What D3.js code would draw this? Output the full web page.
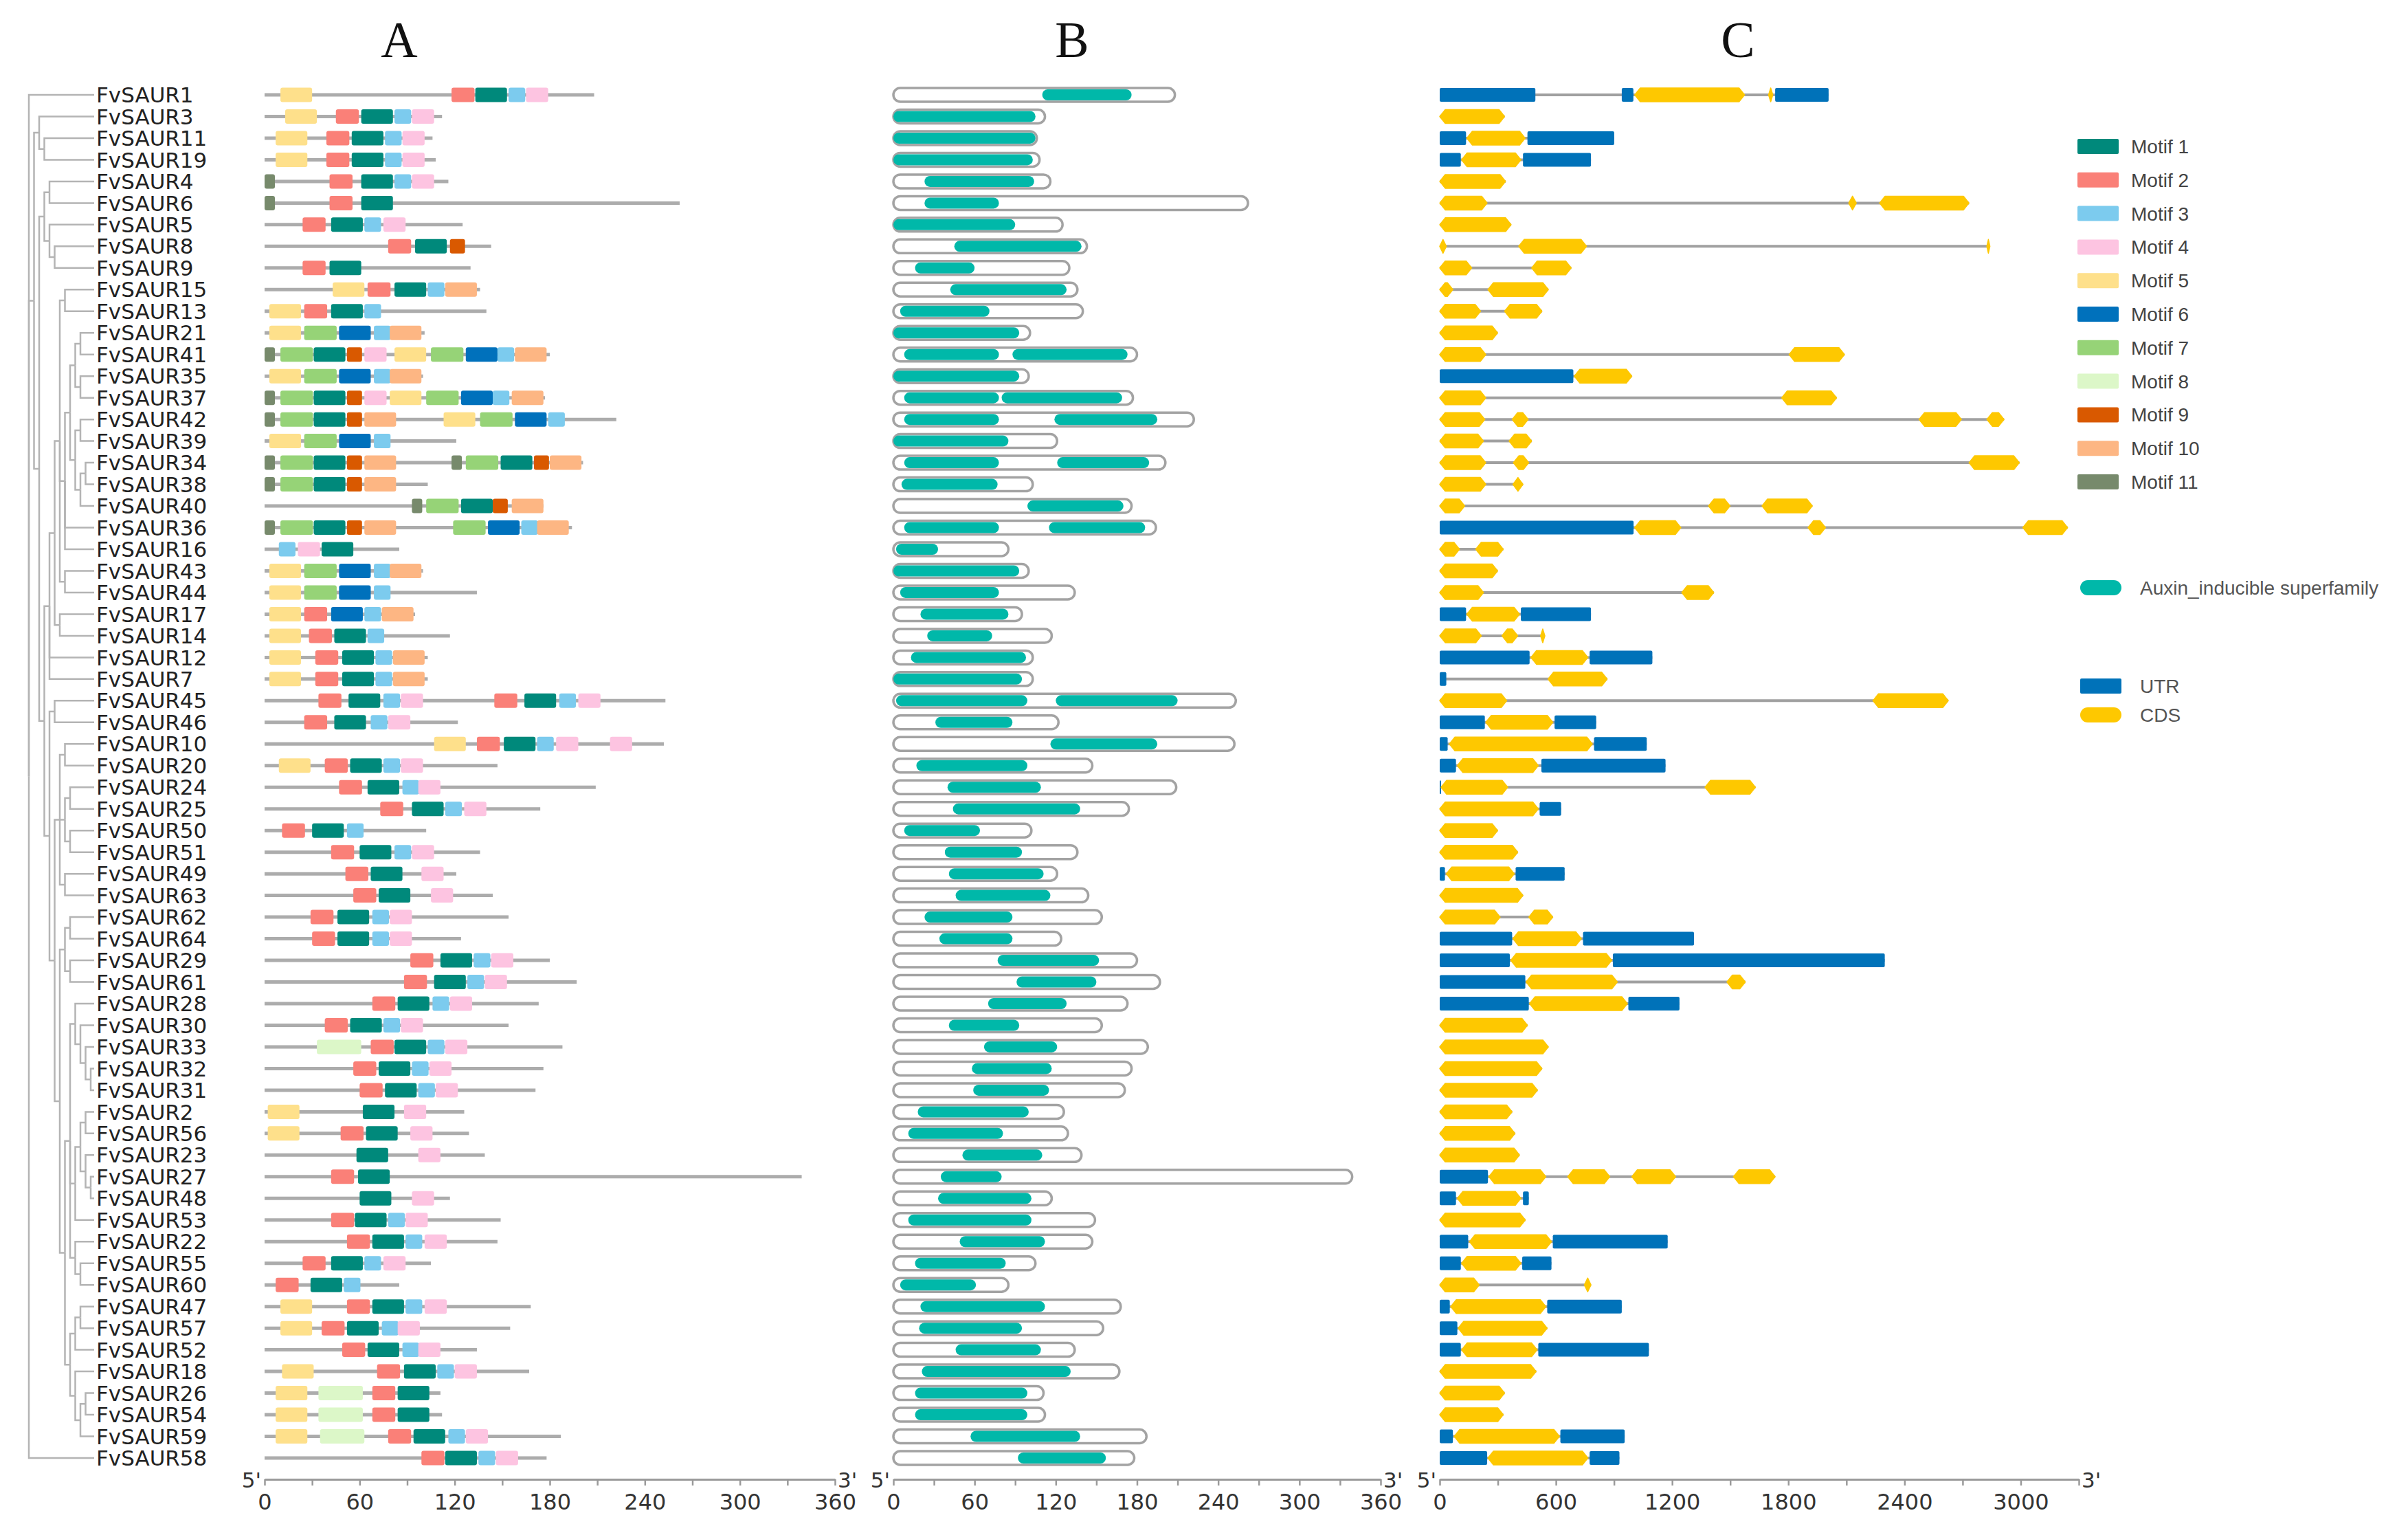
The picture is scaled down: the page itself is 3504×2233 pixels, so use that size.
<!DOCTYPE html>
<html>
<head>
<meta charset="utf-8">
<script src="https://cdn.jsdelivr.net/npm/d3@7"></script>
<style>
  html, body { margin: 0; padding: 0; background: #fff; }
  svg { display: block; }
</style>
</head>
<body>
<svg id="chart" width="3504" height="2233"></svg>
<script>
// ---- data ----
const genes = [
  "FvSAUR1", "FvSAUR3", "FvSAUR11", "FvSAUR19", "FvSAUR4", "FvSAUR6", "FvSAUR5", "FvSAUR8",
  "FvSAUR9", "FvSAUR15", "FvSAUR13", "FvSAUR21", "FvSAUR41", "FvSAUR35", "FvSAUR37", "FvSAUR42",
  "FvSAUR39", "FvSAUR34", "FvSAUR38", "FvSAUR40", "FvSAUR36", "FvSAUR16", "FvSAUR43", "FvSAUR44",
  "FvSAUR17", "FvSAUR14", "FvSAUR12", "FvSAUR7", "FvSAUR45", "FvSAUR46", "FvSAUR10", "FvSAUR20",
  "FvSAUR24", "FvSAUR25", "FvSAUR50", "FvSAUR51", "FvSAUR49", "FvSAUR63", "FvSAUR62", "FvSAUR64",
  "FvSAUR29", "FvSAUR61", "FvSAUR28", "FvSAUR30", "FvSAUR33", "FvSAUR32", "FvSAUR31", "FvSAUR2",
  "FvSAUR56", "FvSAUR23", "FvSAUR27", "FvSAUR48", "FvSAUR53", "FvSAUR22", "FvSAUR55", "FvSAUR60",
  "FvSAUR47", "FvSAUR57", "FvSAUR52", "FvSAUR18", "FvSAUR26", "FvSAUR54", "FvSAUR59", "FvSAUR58"
];

// protein length (aa), same order as genes
const proteinLength = [
  208, 112, 106, 108, 116, 262, 125, 143,
  130, 136, 140, 101, 180, 100, 177, 222,
  121, 201, 103, 176, 194, 85, 100, 134,
  95, 117, 103, 103, 253, 122, 252, 147,
  209, 174, 102, 136, 121, 144, 154, 124,
  180, 197, 173, 154, 188, 176, 171, 126,
  129, 139, 339, 117, 149, 147, 105, 85,
  168, 155, 134, 167, 111, 112, 187, 178
];

// motif widths (aa) and colours, motif 1..11
const motifWidth = [20, 14.5, 10.5, 14, 20, 20, 20.5, 28, 9.5, 20, 6.5];
const motifColors = ["#00897b", "#fa8078", "#7ccbee", "#fdc4e1", "#fee08b", "#0071bc",
                     "#96d377", "#dcf7c8", "#d95900", "#fdb683", "#778a6c"];

// [motif, start aa]
const motifSites = [
  [[5,10],[2,118],[1,133],[3,154],[4,165]],            // 1
  [[5,13],[2,45],[1,61],[3,82],[4,93]],                // 3
  [[5,7],[2,39],[1,55],[3,76],[4,87]],                 // 11
  [[5,7],[2,39],[1,55],[3,76],[4,87]],                 // 19
  [[11,0],[2,41],[1,61],[3,82],[4,93]],                // 4
  [[11,0],[2,41],[1,61]],                              // 6
  [[2,24],[1,42],[3,63],[4,75]],                       // 5
  [[2,78],[1,95],[9,117]],                             // 8
  [[2,24],[1,41]],                                     // 9
  [[5,43],[2,65],[1,82],[3,103],[10,114]],             // 15
  [[5,3],[2,25],[1,42],[3,63]],                        // 13
  [[5,3],[7,25],[6,47],[3,69],[10,79]],                // 21
  [[11,0],[7,10],[1,31],[9,52],[4,63],[5,82],[7,105],[6,127],[3,147],[10,158]], // 41
  [[5,3],[7,25],[6,47],[3,69],[10,79]],                // 35
  [[11,0],[7,10],[1,31],[9,52],[4,63],[5,79],[7,102],[6,124],[3,144],[10,156]], // 37
  [[11,0],[7,10],[1,31],[9,52],[10,63],[5,113],[7,136],[6,158],[3,179]],         // 42
  [[5,3],[7,25],[6,47],[3,69]],                        // 39
  [[11,0],[7,10],[1,31],[9,52],[10,63],[11,118],[7,127],[1,149],[9,170],[10,180]], // 34
  [[11,0],[7,10],[1,31],[9,52],[10,63]],               // 38
  [[11,93],[7,102],[1,124],[9,144],[10,156]],          // 40
  [[11,0],[7,10],[1,31],[9,52],[10,63],[7,119],[6,141],[3,162],[10,172]],        // 36
  [[3,9],[4,21],[1,36]],                               // 16
  [[5,3],[7,25],[6,47],[3,69],[10,79]],                // 43
  [[5,3],[7,25],[6,47],[3,69]],                        // 44
  [[5,3],[2,25],[6,42],[3,63],[10,74]],                // 17
  [[5,3],[2,28],[1,44],[3,65]],                        // 14
  [[5,3],[2,32],[1,49],[3,70],[10,81]],                // 12
  [[5,3],[2,32],[1,49],[3,70],[10,81]],                // 7
  [[2,34],[1,53],[3,75],[4,86],[2,145],[1,164],[3,186],[4,198]], // 45
  [[2,25],[1,44],[3,67],[4,78]],                       // 46
  [[5,107],[2,134],[1,151],[3,172],[4,184],[4,218]],   // 10
  [[5,9],[2,38],[1,54],[3,75],[4,86]],                 // 20
  [[2,47],[1,65],[3,87],[4,97]],                       // 24
  [[2,73],[1,93],[3,114],[4,126]],                     // 25
  [[2,11],[1,30],[3,52]],                              // 50
  [[2,42],[1,60],[3,82],[4,93]],                       // 51
  [[2,51],[1,67],[4,99]],                              // 49
  [[2,56],[1,72],[4,105]],                             // 63
  [[2,29],[1,46],[3,68],[4,79]],                       // 62
  [[2,30],[1,46],[3,68],[4,79]],                       // 64
  [[2,92],[1,111],[3,132],[4,143]],                    // 29
  [[2,88],[1,107],[3,128],[4,139]],                    // 61
  [[2,68],[1,84],[3,106],[4,117]],                     // 28
  [[2,38],[1,54],[3,75],[4,86]],                       // 30
  [[8,33],[2,67],[1,82],[3,103],[4,114]],              // 33
  [[2,56],[1,72],[3,93],[4,104]],                      // 32
  [[2,60],[1,76],[3,97],[4,108]],                      // 31
  [[5,2],[1,62],[4,88]],                               // 2
  [[5,2],[2,48],[1,64],[4,92]],                        // 56
  [[1,58],[4,97]],                                     // 23
  [[2,42],[1,59]],                                     // 27
  [[1,60],[4,93]],                                     // 48
  [[2,42],[1,57],[3,78],[4,89]],                       // 53
  [[2,52],[1,68],[3,89],[4,101]],                      // 22
  [[2,24],[1,42],[3,63],[4,75]],                       // 55
  [[2,7],[1,29],[3,50]],                               // 60
  [[5,10],[2,52],[1,68],[3,89],[4,101]],               // 47
  [[5,10],[2,36],[1,52],[3,74],[4,84]],                // 57
  [[2,49],[1,65],[3,87],[4,97]],                       // 52
  [[5,11],[2,71],[1,88],[3,109],[4,120]],              // 18
  [[5,7],[8,34],[2,68],[1,84]],                        // 26
  [[5,7],[8,34],[2,68],[1,84]],                        // 54
  [[5,7],[8,35],[2,78],[1,94],[3,116],[4,127]],        // 59
  [[2,99],[1,114],[3,135],[4,146]]                     // 58
];

// Auxin_inducible domain [start, end] aa
const domainSites = [
  [[110,176]], [[0,105]], [[0,105]], [[0,103]], [[23,104]], [[23,78]], [[0,90]], [[45,139]],
  [[16,60]], [[42,128]], [[5,71]], [[0,93]], [[8,78],[88,173]], [[0,93]], [[8,78],[80,169]], [[8,78],[119,195]],
  [[0,85]], [[8,78],[121,189]], [[6,77]], [[99,170]], [[8,78],[115,186]], [[2,33]], [[0,93]], [[5,78]],
  [[20,85]], [[25,73]], [[13,98]], [[0,95]], [[2,99],[120,210]], [[31,88]], [[116,195]], [[17,99]],
  [[40,109]], [[44,138]], [[8,64]], [[38,95]], [[41,111]], [[46,116]], [[23,88]], [[34,88]],
  [[77,152]], [[91,150]], [[70,128]], [[41,93]], [[67,121]], [[58,117]], [[59,115]], [[18,100]],
  [[11,81]], [[51,110]], [[35,80]], [[33,102]], [[11,102]], [[49,112]], [[16,83]], [[5,61]],
  [[20,112]], [[19,95]], [[46,109]], [[21,131]], [[16,99]], [[16,99]], [[57,138]], [[92,157]]
];

// gene structure: [type, start bp, end bp], U = UTR, C = CDS
const geneFeatures = [
  [["U",0,494],["U",940,1000],["C",1007,1574],["C",1698,1720],["U",1732,2008]], // 1
  [["C",0,335]],                                                 // 3
  [["U",0,136],["C",140,441],["U",453,901]],                     // 11
  [["U",0,109],["C",113,419],["U",430,781]],                     // 19
  [["C",0,340]],                                                 // 4
  [["C",0,245],["C",2112,2151],["C",2271,2733]],                 // 6
  [["C",0,369]],                                                 // 5
  [["C",0,34],["C",408,758],["C",2825,2841]],                    // 8
  [["C",0,165],["C",475,679]],                                   // 9
  [["C",0,68],["C",249,561]],                                    // 15
  [["C",0,211],["C",335,528]],                                   // 13
  [["C",0,299]],                                                 // 21
  [["C",0,238],["C",1804,2090]],                                 // 41
  [["U",0,690],["C",695,992]],                                   // 35
  [["C",0,238],["C",1766,2049]],                                 // 37
  [["C",0,233],["C",374,457],["C",2475,2694],["C",2825,2914]],   // 42
  [["C",0,226],["C",358,475]],                                   // 39
  [["C",0,238],["C",380,460],["C",2733,2993]],                   // 34
  [["C",0,238],["C",378,430]],                                   // 38
  [["C",0,129],["C",1388,1499],["C",1664,1924]],                 // 40
  [["U",0,1001],["C",1007,1245],["C",1902,1992],["C",3011,3242]], // 36
  [["C",0,102],["C",186,328]],                                   // 16
  [["C",0,299]],                                                 // 43
  [["C",0,226],["C",1250,1415]],                                 // 44
  [["U",0,136],["C",140,412],["U",419,781]],                     // 17
  [["C",0,215],["C",321,403],["C",521,543]],                     // 14
  [["U",0,464],["C",471,765],["U",774,1098]],                    // 12
  [["U",0,34],["C",559,865]],                                    // 7
  [["C",0,346],["C",2237,2626]],                                 // 45
  [["U",0,233],["C",238,584],["U",593,808]],                     // 46
  [["U",0,41],["C",50,788],["U",797,1069]],                      // 10
  [["U",0,84],["C",91,509],["U",525,1166]],                      // 20
  [["U",0,7],["C",7,351],["C",1370,1630]],                       // 24
  [["C",0,509],["U",516,627]],                                   // 25
  [["C",0,299]],                                                 // 50
  [["C",0,403]],                                                 // 51
  [["U",0,27],["C",34,385],["U",392,645]],                       // 49
  [["C",0,430]],                                                 // 63
  [["C",0,312],["C",460,584]],                                   // 62
  [["U",0,374],["C",378,731],["U",740,1313]],                    // 64
  [["U",0,362],["C",367,888],["U",894,2298]],                    // 29
  [["U",0,442],["C",446,917],["C",1483,1578]],                   // 61
  [["U",0,460],["C",464,969],["U",974,1238]],                    // 28
  [["C",0,453]],                                                 // 30
  [["C",0,561]],                                                 // 33
  [["C",0,528]],                                                 // 32
  [["C",0,505]],                                                 // 31
  [["C",0,374]],                                                 // 2
  [["C",0,389]],                                                 // 56
  [["C",0,412]],                                                 // 23
  [["U",0,249],["C",254,548],["C",661,878],["C",992,1218],["C",1517,1732]], // 27
  [["U",0,84],["C",91,419],["U",430,460]],                       // 48
  [["C",0,442]],                                                 // 53
  [["U",0,147],["C",154,577],["U",584,1177]],                    // 22
  [["U",0,109],["C",113,419],["U",426,577]],                     // 55
  [["C",0,204],["C",747,781]],                                   // 60
  [["U",0,52],["C",57,548],["U",555,940]],                       // 47
  [["U",0,91],["C",95,555]],                                     // 57
  [["U",0,109],["C",113,503],["U",509,1080]],                    // 52
  [["C",0,498]],                                                 // 18
  [["C",0,335]],                                                 // 26
  [["C",0,328]],                                                 // 54
  [["U",0,68],["C",75,618],["U",623,955]],                       // 59
  [["U",0,245],["C",249,765],["U",774,928]]                      // 58
];

// tree topology (nested arrays, leaves are gene names)
const treeTopology = [
  "FvSAUR1",
  [
    ["FvSAUR3", ["FvSAUR11", "FvSAUR19"]],
    [
      [["FvSAUR4", "FvSAUR6"], ["FvSAUR5", ["FvSAUR8", "FvSAUR9"]]],
      [
        [
          [
            [
              ["FvSAUR15", "FvSAUR13"],
              [
                [
                  [["FvSAUR21", "FvSAUR41"], ["FvSAUR35", "FvSAUR37"]],
                  [["FvSAUR42", "FvSAUR39"], [["FvSAUR34", "FvSAUR38"], "FvSAUR40"]]
                ],
                "FvSAUR36", "FvSAUR16"
              ],
              ["FvSAUR43", "FvSAUR44"]
            ],
            ["FvSAUR17", "FvSAUR14"]
          ],
          "FvSAUR12", "FvSAUR7"
        ],
        [
          ["FvSAUR45", "FvSAUR46"],
          [
            [["FvSAUR10", "FvSAUR20"], [["FvSAUR24", "FvSAUR25"], ["FvSAUR50", "FvSAUR51"]], ["FvSAUR49", "FvSAUR63"]],
            [
              [["FvSAUR62", "FvSAUR64"], ["FvSAUR29", "FvSAUR61"]],
              [
                [
                  ["FvSAUR28", ["FvSAUR30", ["FvSAUR33", ["FvSAUR32", "FvSAUR31"]]]],
                  [[["FvSAUR2", "FvSAUR56"], ["FvSAUR23", ["FvSAUR27", "FvSAUR48"]]], "FvSAUR53"],
                  ["FvSAUR22", ["FvSAUR55", "FvSAUR60"]]
                ],
                [
                  [["FvSAUR47", "FvSAUR57"], "FvSAUR52"],
                  ["FvSAUR18", [["FvSAUR26", "FvSAUR54"], "FvSAUR59"]]
                ]
              ]
            ]
          ]
        ]
      ]
    ]
  ],
  "FvSAUR58"
];

const aaTicks = [0, 30, 60, 90, 120, 150, 180, 210, 240, 270, 300, 330, 360];
const bpTicks = [0, 300, 600, 900, 1200, 1500, 1800, 2100, 2400, 2700, 3000, 3300];
const panelTitles = ["A", "B", "C"];
const legendOther = ["Auxin_inducible superfamily", "UTR", "CDS"];

// ---- colours / styles ----
const domainColor = "#00b8a9";
const utrColor = "#0072b9";
const cdsColor = "#fec800";
const lineGrey = "#acacac";
const treeGrey = "#b4b4b4";

const svg = d3.select("#chart");
svg.append("rect").attr("width", 3504).attr("height", 2233).attr("fill", "#fff");

// ---- scales ----
const y = d3.scalePoint().domain(genes).range([138, 2121]);
const xA = d3.scaleLinear().domain([0, 360]).range([385, 1215]);
const xB = d3.scaleLinear().domain([0, 360]).range([1300, 2009]);
const xC = d3.scaleLinear().domain([0, 3300]).range([2095, 3025]);
const axisY = 2152;

// ---- panel titles ----
svg.selectAll("text.title")
  .data(panelTitles)
  .join("text")
  .attr("class", "title")
  .attr("x", (d, i) => [xA(85), xB(132), xC(1540)][i])
  .attr("y", 83)
  .attr("text-anchor", "middle")
  .attr("font-family", "Liberation Serif, serif")
  .attr("font-size", 74)
  .attr("fill", "#111")
  .text(d => d);

// ---- tree ----
const root = d3.hierarchy(treeTopology, d => Array.isArray(d) ? d : null);
const treeX = d3.scaleLinear().domain([0, 12]).range([42, 132]);
const tipX = 137;
root.eachAfter(n => {
  if (n.children) {
    n.py = (n.children[0].py + n.children[n.children.length - 1].py) / 2;
    n.px = treeX(n.depth);
  } else {
    n.py = y(n.data);
    n.px = tipX;
  }
});

svg.append("g")
  .attr("fill", "none")
  .attr("stroke", treeGrey)
  .attr("stroke-width", 2.5)
  .selectAll("path")
  .data(root.links())
  .join("path")
  .attr("d", l => `M${l.source.px},${l.source.py}V${l.target.py}H${l.target.px}`);

// gene labels
svg.append("g")
  .selectAll("text")
  .data(genes)
  .join("text")
  .attr("x", tipX + 3)
  .attr("y", d => y(d))
  .attr("dy", "0.36em")
  .attr("font-family", "DejaVu Sans, Verdana, sans-serif")
  .attr("font-size", 31)
  .attr("fill", "#222")
  .text(d => d);

// ---- panel A: motifs ----
const rowA = svg.append("g")
  .selectAll("g")
  .data(genes)
  .join("g")
  .attr("transform", d => `translate(0,${y(d)})`);

rowA.append("line")
  .attr("x1", xA(0))
  .attr("x2", (d, i) => xA(proteinLength[i]))
  .attr("stroke", lineGrey)
  .attr("stroke-width", 5);

rowA.each(function (g, i) {
  d3.select(this).selectAll("rect")
    .data(motifSites[i])
    .join("rect")
    .attr("x", d => xA(d[1]))
    .attr("width", d => xA(d[1] + motifWidth[d[0] - 1]) - xA(d[1]))
    .attr("y", -10.5)
    .attr("height", 21)
    .attr("rx", 3)
    .attr("fill", d => motifColors[d[0] - 1]);
});

// ---- panel B: domains ----
const rowB = svg.append("g")
  .selectAll("g")
  .data(genes)
  .join("g")
  .attr("transform", d => `translate(0,${y(d)})`);

rowB.append("rect")
  .attr("x", xB(0))
  .attr("width", (d, i) => xB(proteinLength[i]) - xB(0))
  .attr("y", -10)
  .attr("height", 20)
  .attr("rx", 10)
  .attr("fill", "#fff")
  .attr("stroke", "#a3a3a3")
  .attr("stroke-width", 3.5);

rowB.each(function (g, i) {
  d3.select(this).selectAll("rect.dom")
    .data(domainSites[i])
    .join("rect")
    .attr("class", "dom")
    .attr("x", d => xB(d[0]))
    .attr("width", d => xB(d[1]) - xB(d[0]))
    .attr("y", -8)
    .attr("height", 16)
    .attr("rx", 8)
    .attr("fill", domainColor);
});

// ---- panel C: gene structure ----
function cdsPath(x0, x1, h) {
  const b = Math.min(8, (x1 - x0) / 2);
  return `M${x0},0L${x0 + b},${-h / 2}L${x1 - b},${-h / 2}L${x1},0L${x1 - b},${h / 2}L${x0 + b},${h / 2}Z`;
}

const rowC = svg.append("g")
  .selectAll("g")
  .data(genes)
  .join("g")
  .attr("transform", d => `translate(0,${y(d)})`);

rowC.append("line")
  .attr("x1", xC(0))
  .attr("x2", (d, i) => xC(d3.max(geneFeatures[i], f => f[2])))
  .attr("stroke", "#a0a0a0")
  .attr("stroke-width", 4);

rowC.each(function (g, i) {
  const sel = d3.select(this);
  sel.selectAll("rect.utr")
    .data(geneFeatures[i].filter(f => f[0] === "U"))
    .join("rect")
    .attr("class", "utr")
    .attr("x", d => xC(d[1]))
    .attr("width", d => Math.max(2, xC(d[2]) - xC(d[1])))
    .attr("y", -10)
    .attr("height", 20)
    .attr("rx", 2)
    .attr("fill", utrColor);
  sel.selectAll("path.cds")
    .data(geneFeatures[i].filter(f => f[0] === "C"))
    .join("path")
    .attr("class", "cds")
    .attr("d", d => cdsPath(xC(d[1]), xC(d[2]), 20))
    .attr("fill", cdsColor)
    .attr("stroke", cdsColor)
    .attr("stroke-width", 1.5)
    .attr("stroke-linejoin", "round");
});

// ---- axes ----
function drawAxis(scale, ticks) {
  const axis = d3.axisBottom(scale)
    .tickValues(ticks)
    .tickSize(9)
    .tickSizeOuter(0)
    .tickPadding(12)
    .tickFormat((d, i) => i % 2 === 0 ? d : "");
  const g = svg.append("g")
    .attr("transform", `translate(0,${axisY})`)
    .call(axis)
    .attr("font-family", "DejaVu Sans, Verdana, sans-serif")
    .attr("font-size", 32);
  g.select(".domain").attr("stroke", "#9a9a9a").attr("stroke-width", 3);
  g.selectAll(".tick line").attr("stroke", "#9a9a9a").attr("stroke-width", 2.5);
  g.selectAll(".tick text").attr("fill", "#333");

  // 5' / 3' end markers
  const [r0, r1] = scale.range();
  g.append("text")
    .attr("x", r0 - 5).attr("y", 12)
    .attr("text-anchor", "end")
    .attr("fill", "#333")
    .attr("font-size", 31)
    .text("5'");
  g.append("text")
    .attr("x", r1 + 4).attr("y", 12)
    .attr("text-anchor", "start")
    .attr("fill", "#333")
    .attr("font-size", 31)
    .text("3'");
}
drawAxis(xA, aaTicks);
drawAxis(xB, aaTicks);
drawAxis(xC, bpTicks);

// ---- legend ----
const legendY = d3.scaleLinear().domain([0, 10]).range([213, 701]);
const legend = svg.append("g")
  .attr("font-family", "Liberation Sans, Arial, sans-serif")
  .attr("font-size", 28);

const motifItems = legend.selectAll("g.motif")
  .data(motifColors)
  .join("g")
  .attr("class", "motif")
  .attr("transform", (d, i) => `translate(3023,${legendY(i)})`);
motifItems.append("rect")
  .attr("y", -11).attr("width", 60).attr("height", 22).attr("rx", 2)
  .attr("fill", d => d);
motifItems.append("text")
  .attr("x", 78).attr("dy", "0.36em")
  .attr("fill", "#444")
  .text((d, i) => `Motif ${i + 1}`);

const otherY = [855, 998, 1040];
const otherColor = [domainColor, utrColor, cdsColor];
const otherItems = legend.selectAll("g.other")
  .data(legendOther)
  .join("g")
  .attr("class", "other")
  .attr("transform", (d, i) => `translate(3027,${otherY[i]})`);
otherItems.append("rect")
  .attr("y", -11).attr("width", 60).attr("height", 22)
  .attr("rx", (d, i) => i === 1 ? 2 : 11)
  .attr("fill", (d, i) => otherColor[i]);
otherItems.append("text")
  .attr("x", 87).attr("dy", "0.36em")
  .attr("fill", "#555")
  .text(d => d);
</script>
</body>
</html>
